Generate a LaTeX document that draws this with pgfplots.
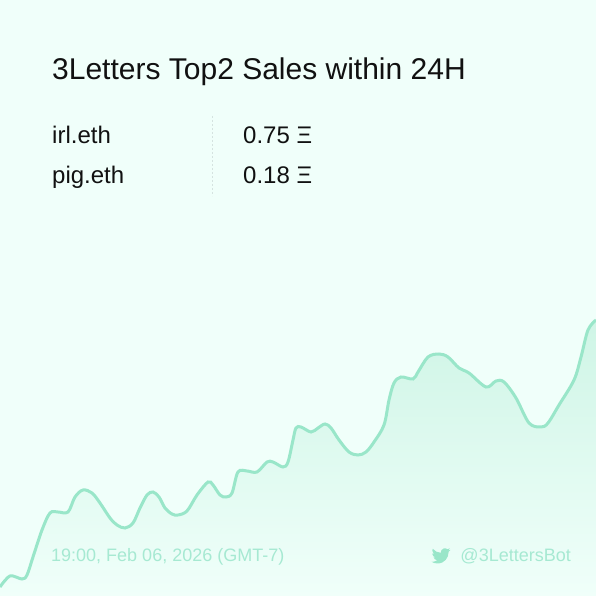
\documentclass[border=0pt]{standalone}
\usepackage{pgfplots}
\pgfplotsset{compat=1.18}
\usepackage{fontspec}
\setmainfont{Liberation Sans}
\definecolor{bg}{HTML}{F0FFFA}
\definecolor{curve}{HTML}{99E6C9}
\definecolor{areatop}{HTML}{CFF5E6}
\definecolor{faint}{HTML}{A6E9D2}
\definecolor{ink}{HTML}{111111}
\definecolor{rule}{HTML}{D5E3E0}
% trace of the curve, x and height in picture pixels
\pgfplotstableread{
x y
0 9
10 20
22 17
27 21
33 39
42 66
50 83
58 84
68 84
75 99
83 106
92 103
100 93
110 78
117 71
125 68
133 73
140 88
147 101
153 104
159 99
165 88
172 82
178 81
187 85
197 101
208 114
213 111
220 101
226 99
232 103
238 124
247 125
257 124
267 134
273 134
283 129
288 134
293 156
296 168
301 169
311 164
318 168
325 172
331 168
339 156
349 144
358 141
366 144
374 154
384 171
389 196
394 213
401 219
413 217
418 224
428 239
439 242
448 239
459 228
469 223
486 209
496 215
504 214
516 198
529 173
541 169
548 173
559 191
574 216
581 239
588 266
596 276
}\curvedata
\begin{document}
\begin{tikzpicture}
\begin{axis}[
    scale only axis,
    width=596pt,
    height=596pt,
    xmin=0, xmax=596,
    ymin=0, ymax=596,
    xtick=\empty, ytick=\empty,
    axis line style={draw=none},
    axis background/.style={fill=bg},
    clip mode=individual,
]
\addplot[draw=none, top color=areatop, bottom color=bg, smooth, tension=0.55]
    table {\curvedata} \closedcycle;
\addplot[curve, line width=3pt, smooth, tension=0.55, no markers]
    table {\curvedata};
\addplot[rule, line width=0.8pt, dash pattern=on 2pt off 2pt]
    coordinates {(212,480) (212,400)};
\node[anchor=base west, inner sep=0pt, text=ink, font=\fontsize{30}{30}\selectfont] at (axis cs:52,516) {3Letters Top2 Sales within 24H};
\node[anchor=base west, inner sep=0pt, text=ink, font=\fontsize{24}{24}\selectfont] at (axis cs:52,452) {irl.eth};
\node[anchor=base west, inner sep=0pt, text=ink, font=\fontsize{24}{24}\selectfont] at (axis cs:52,412) {pig.eth};
\node[anchor=base west, inner sep=0pt, text=ink, font=\fontsize{24}{24}\selectfont] at (axis cs:243,452) {0.75 Ξ};
\node[anchor=base west, inner sep=0pt, text=ink, font=\fontsize{24}{24}\selectfont] at (axis cs:243,412) {0.18 Ξ};
\node[anchor=base west, inner sep=0pt, text=faint, font=\fontsize{18}{18}\selectfont] at (axis cs:51,34) {19:00, Feb 06, 2026 (GMT-7)};
\node[anchor=base east, inner sep=0pt, text=faint, font=\fontsize{18}{18}\selectfont] at (axis cs:571,34) {@3LettersBot};
% twitter bird
\begin{scope}[shift={(axis cs:431.5,49.7)}, x=0.79pt, y=-0.79pt]
\fill[curve] (23.953,4.57) .. controls (23.1,4.95) and (22.1,5.22) .. (21.128,5.345)
  .. controls (22.15,4.73) and (22.93,3.77) .. (23.291,2.622)
  .. controls (22.34,3.177) and (21.286,3.581) .. (20.164,3.806)
  .. controls (18.9,2.5) and (17.2,2.2) .. (15.6,2.7)
  .. controls (13.0,3.4) and (11.2,5.9) .. (11.78,8.288)
  .. controls (7.69,8.095) and (4.067,6.13) .. (1.64,3.162)
  .. controls (1.2,3.9) and (0.974,4.75) .. (0.974,5.637)
  .. controls (0.974,7.347) and (1.844,8.85) .. (3.162,9.733)
  .. controls (2.36,9.7) and (1.6,9.48) .. (0.934,9.117)
  -- (0.934,9.177)
  .. controls (0.934,11.55) and (2.62,13.55) .. (4.88,14.004)
  .. controls (4.18,14.19) and (3.4,14.22) .. (2.668,14.089)
  .. controls (3.3,16.1) and (5.13,17.45) .. (7.272,17.506)
  .. controls (5.58,18.83) and (3.47,19.61) .. (1.17,19.611)
  .. controls (0.78,19.611) and (0.391,19.588) .. (0,19.544)
  .. controls (2.2,20.94) and (4.8,21.753) .. (7.557,21.753)
  .. controls (16.61,21.753) and (21.555,14.257) .. (21.555,7.768)
  .. controls (21.555,7.558) and (21.555,7.348) .. (21.54,7.138)
  .. controls (22.5,6.44) and (23.33,5.58) .. (24,4.59)
  -- cycle;
\end{scope}
\end{axis}
\end{tikzpicture}
\end{document}
